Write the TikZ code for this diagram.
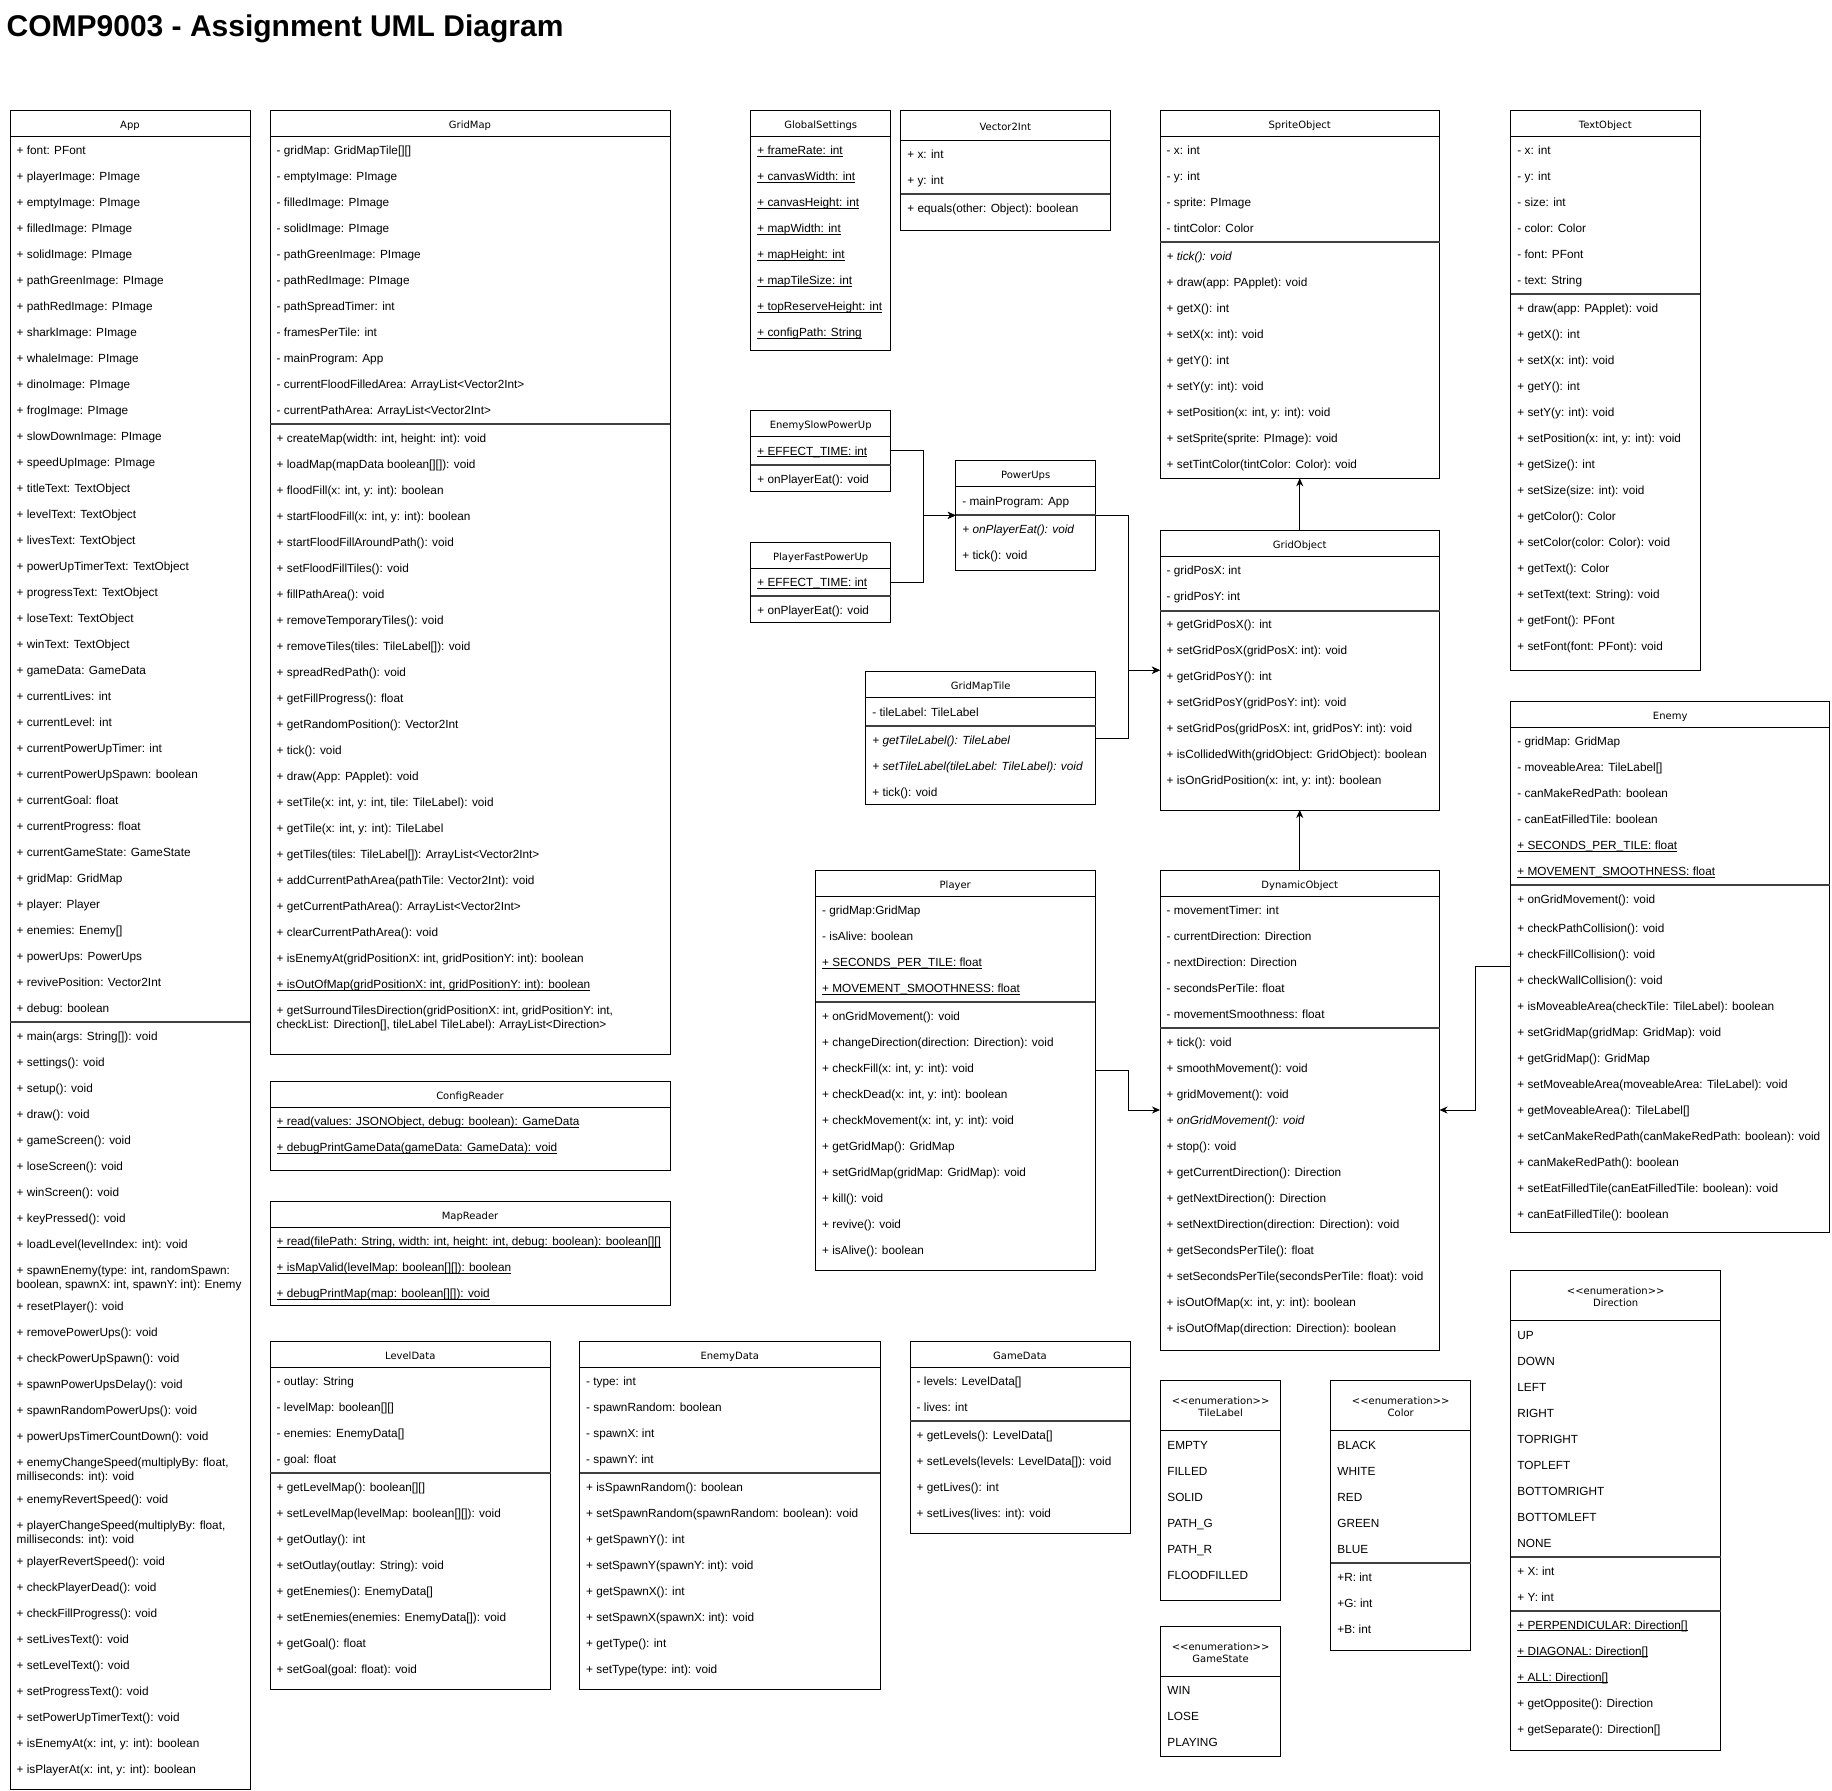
\documentclass[tikz,border=0pt]{standalone}
\usepackage{fontspec}
\setmainfont{Liberation Sans}
\newfontfamily\hdrfont{DejaVu Sans}
\usetikzlibrary{arrows.meta}
\newcounter{rown}
\newcommand\myul[1]{\setbox0\hbox{#1}\rlap{\rule[-2.2pt]{\wd0}{0.8pt}}\box0}
\newcommand\clsstart[7]{%
  \node[clsbox, minimum width={(#4-#2)*1pt}, minimum height={(#5-#3)*1pt}] (#1) at (#2,#3) {};
  \draw[sepline] (#2,#6) -- (#4,#6);
  \node[hdrtxt] (#1-title) at ({(#2+#4)/2},{(#3+#6)/2+5}) {#7};
  \xdef\cxa{#2}\xdef\cxb{#4}\pgfmathsetmacro\mytmp{#6+14}\xdef\cy{\mytmp}}
\newcommand\enumstart[7]{%
  \node[clsbox, minimum width={(#4-#2)*1pt}, minimum height={(#5-#3)*1pt}] (#1) at (#2,#3) {};
  \draw[sepline] (#2,#6) -- (#4,#6);
  \node[hdrtxt] (#1-st) at ({(#2+#4)/2},#3+23.5) {<\kern0pt<enumeration>\kern0pt>};
  \node[hdrtxt] (#1-title) at ({(#2+#4)/2},#3+35.5) {#7};
  \xdef\cxa{#2}\xdef\cxb{#4}\pgfmathsetmacro\mytmp{#6+14}\xdef\cy{\mytmp}}
\newcommand\rw[1]{\stepcounter{rown}\node[rowtxt] (row\arabic{rown}) at (\cxa+6.5,\cy+4.3) {#1};\pgfmathsetmacro\mytmp{\cy+26}\xdef\cy{\mytmp}}
\newcommand\rww[2]{\stepcounter{rown}\node[rowtxt] (row\arabic{rown}) at (\cxa+6.5,\cy+4.3) {#1};\stepcounter{rown}\node[rowtxt] (row\arabic{rown}) at (\cxa+6.5,\cy+18.3) {#2};\pgfmathsetmacro\mytmp{\cy+36.5}\xdef\cy{\mytmp}}
\newcommand\dv{\draw[divline] (\cxa,\cy-12) -- (\cxb,\cy-12);\pgfmathsetmacro\mytmp{\cy+2}\xdef\cy{\mytmp}}
\newcommand\gapy[1]{\pgfmathsetmacro\mytmp{\cy+#1}\xdef\cy{\mytmp}}
\begin{document}
\begin{tikzpicture}[x=1pt,y=-1pt,
 clsbox/.style={draw, line width=1pt, anchor=north west, inner sep=0pt, outer sep=0pt, fill=white},
 sepline/.style={line width=1pt},
 divline/.style={line width=2pt, draw=black!75},
 hdrtxt/.style={anchor=base, inner sep=0pt, font=\hdrfont\fontsize{10}{12}\selectfont},
 rowtxt/.style={anchor=base west, inner sep=0pt, font=\fontsize{11.8}{14}\selectfont},
 conn/.style={line width=1pt, -{Stealth[length=8pt,width=7pt,inset=2.5pt]}}]
\useasboundingbox (0,0) rectangle (1832,1791);
\node[anchor=base west, inner sep=0pt, font=\bfseries\fontsize{30}{34}\selectfont] (title) at (6.5,36) {COMP9003 - Assignment UML Diagram};

% App
\clsstart{App}{10}{110}{250}{1789}{136}{App}
\rw{+ font: PFont}
\rw{+ playerImage: PImage}
\rw{+ emptyImage: PImage}
\rw{+ filledImage: PImage}
\rw{+ solidImage: PImage}
\rw{+ pathGreenImage: PImage}
\rw{+ pathRedImage: PImage}
\rw{+ sharkImage: PImage}
\rw{+ whaleImage: PImage}
\rw{+ dinoImage: PImage}
\rw{+ frogImage: PImage}
\rw{+ slowDownImage: PImage}
\rw{+ speedUpImage: PImage}
\rw{+ titleText: TextObject}
\rw{+ levelText: TextObject}
\rw{+ livesText: TextObject}
\rw{+ powerUpTimerText: TextObject}
\rw{+ progressText: TextObject}
\rw{+ loseText: TextObject}
\rw{+ winText: TextObject}
\rw{+ gameData: GameData}
\rw{+ currentLives: int}
\rw{+ currentLevel: int}
\rw{+ currentPowerUpTimer: int}
\rw{+ currentPowerUpSpawn: boolean}
\rw{+ currentGoal: float}
\rw{+ currentProgress: float}
\rw{+ currentGameState: GameState}
\rw{+ gridMap: GridMap}
\rw{+ player: Player}
\rw{+ enemies: Enemy[]}
\rw{+ powerUps: PowerUps}
\rw{+ revivePosition: Vector2Int}
\rw{+ debug: boolean}
\dv
\rw{+ main(args: String[]): void}
\rw{+ settings(): void}
\rw{+ setup(): void}
\rw{+ draw(): void}
\rw{+ gameScreen(): void}
\rw{+ loseScreen(): void}
\rw{+ winScreen(): void}
\rw{+ keyPressed(): void}
\rw{+ loadLevel(levelIndex: int): void}
\rww{+ spawnEnemy(type: int, randomSpawn:}{boolean, spawnX: int, spawnY: int): Enemy}
\rw{+ resetPlayer(): void}
\rw{+ removePowerUps(): void}
\rw{+ checkPowerUpSpawn(): void}
\rw{+ spawnPowerUpsDelay(): void}
\rw{+ spawnRandomPowerUps(): void}
\rw{+ powerUpsTimerCountDown(): void}
\rww{+ enemyChangeSpeed(multiplyBy: float,}{milliseconds: int): void}
\rw{+ enemyRevertSpeed(): void}
\rww{+ playerChangeSpeed(multiplyBy: float,}{milliseconds: int): void}
\rw{+ playerRevertSpeed(): void}
\rw{+ checkPlayerDead(): void}
\rw{+ checkFillProgress(): void}
\rw{+ setLivesText(): void}
\rw{+ setLevelText(): void}
\rw{+ setProgressText(): void}
\rw{+ setPowerUpTimerText(): void}
\rw{+ isEnemyAt(x: int, y: int): boolean}
\rw{+ isPlayerAt(x: int, y: int): boolean}

% GridMap
\clsstart{GridMap}{270}{110}{670}{1054}{136}{GridMap}
\rw{- gridMap: GridMapTile[][]}
\rw{- emptyImage: PImage}
\rw{- filledImage: PImage}
\rw{- solidImage: PImage}
\rw{- pathGreenImage: PImage}
\rw{- pathRedImage: PImage}
\rw{- pathSpreadTimer: int}
\rw{- framesPerTile: int}
\rw{- mainProgram: App}
\rw{- currentFloodFilledArea: ArrayList<Vector2Int>}
\rw{- currentPathArea: ArrayList<Vector2Int>}
\dv
\rw{+ createMap(width: int, height: int): void}
\rw{+ loadMap(mapData boolean[][]): void}
\rw{+ floodFill(x: int, y: int): boolean}
\rw{+ startFloodFill(x: int, y: int): boolean}
\rw{+ startFloodFillAroundPath(): void}
\rw{+ setFloodFillTiles(): void}
\rw{+ fillPathArea(): void}
\rw{+ removeTemporaryTiles(): void}
\rw{+ removeTiles(tiles: TileLabel[]): void}
\rw{+ spreadRedPath(): void}
\rw{+ getFillProgress(): float}
\rw{+ getRandomPosition(): Vector2Int}
\rw{+ tick(): void}
\rw{+ draw(App: PApplet): void}
\rw{+ setTile(x: int, y: int, tile: TileLabel): void}
\rw{+ getTile(x: int, y: int): TileLabel}
\rw{+ getTiles(tiles: TileLabel[]): ArrayList<Vector2Int>}
\rw{+ addCurrentPathArea(pathTile: Vector2Int): void}
\rw{+ getCurrentPathArea(): ArrayList<Vector2Int>}
\rw{+ clearCurrentPathArea(): void}
\rw{+ isEnemyAt(gridPositionX: int, gridPositionY: int): boolean}
\rw{\myul{+ isOutOfMap(gridPositionX: int, gridPositionY: int): boolean}}
\rww{+ getSurroundTilesDirection(gridPositionX: int, gridPositionY: int,}{checkList: Direction[], tileLabel TileLabel): ArrayList<Direction>}

% GlobalSettings
\clsstart{GlobalSettings}{750.7}{110}{890.7}{350}{136}{GlobalSettings}
\rw{\myul{+ frameRate: int}}
\rw{\myul{+ canvasWidth: int}}
\rw{\myul{+ canvasHeight: int}}
\rw{\myul{+ mapWidth: int}}
\rw{\myul{+ mapHeight: int}}
\rw{\myul{+ mapTileSize: int}}
\rw{\myul{+ topReserveHeight: int}}
\rw{\myul{+ configPath: String}}

% Vector2Int
\clsstart{Vector2Int}{900.7}{110}{1110}{230}{140}{Vector2Int}
\rw{+ x: int}
\rw{+ y: int}
\dv
\rw{+ equals(other: Object): boolean}

% SpriteObject
\clsstart{SpriteObject}{1160}{110}{1439.5}{478.3}{136}{SpriteObject}
\rw{- x: int}
\rw{- y: int}
\rw{- sprite: PImage}
\rw{- tintColor: Color}
\dv
\rw{\textit{+ tick(): void}}
\rw{+ draw(app: PApplet): void}
\rw{+ getX(): int}
\rw{+ setX(x: int): void}
\rw{+ getY(): int}
\rw{+ setY(y: int): void}
\rw{+ setPosition(x: int, y: int): void}
\rw{+ setSprite(sprite: PImage): void}
\rw{+ setTintColor(tintColor: Color): void}

% TextObject
\clsstart{TextObject}{1510.7}{110}{1700}{670.6}{136}{TextObject}
\rw{- x: int}
\rw{- y: int}
\rw{- size: int}
\rw{- color: Color}
\rw{- font: PFont}
\rw{- text: String}
\dv
\rw{+ draw(app: PApplet): void}
\rw{+ getX(): int}
\rw{+ setX(x: int): void}
\rw{+ getY(): int}
\rw{+ setY(y: int): void}
\rw{+ setPosition(x: int, y: int): void}
\rw{+ getSize(): int}
\rw{+ setSize(size: int): void}
\rw{+ getColor(): Color}
\rw{+ setColor(color: Color): void}
\rw{+ getText(): Color}
\rw{+ setText(text: String): void}
\rw{+ getFont(): PFont}
\rw{+ setFont(font: PFont): void}

% EnemySlowPowerUp
\clsstart{EnemySlowPowerUp}{750.7}{410.7}{890.7}{491}{436.7}{EnemySlowPowerUp}
\rw{\myul{+ EFFECT\_TIME: int}}
\dv
\rw{+ onPlayerEat(): void}

% PlayerFastPowerUp
\clsstart{PlayerFastPowerUp}{750.7}{542.3}{890.7}{622.7}{568.3}{PlayerFastPowerUp}
\rw{\myul{+ EFFECT\_TIME: int}}
\dv
\rw{+ onPlayerEat(): void}

% PowerUps
\clsstart{PowerUps}{955.7}{460.7}{1095.7}{570}{486.7}{PowerUps}
\rw{- mainProgram: App}
\dv
\rw{\textit{+ onPlayerEat(): void}}
\rw{+ tick(): void}

% GridMapTile
\clsstart{GridMapTile}{865.7}{671.7}{1095.7}{804.3}{697.7}{GridMapTile}
\rw{- tileLabel: TileLabel}
\dv
\rw{\textit{+ getTileLabel(): TileLabel}}
\rw{\textit{+ setTileLabel(tileLabel: TileLabel): void}}
\rw{+ tick(): void}

% GridObject
\clsstart{GridObject}{1160}{530.5}{1439.5}{810}{556.5}{GridObject}
\rw{- gridPosX: int}
\rw{- gridPosY: int}
\dv
\rw{+ getGridPosX(): int}
\rw{+ setGridPosX(gridPosX: int): void}
\rw{+ getGridPosY(): int}
\rw{+ setGridPosY(gridPosY: int): void}
\rw{+ setGridPos(gridPosX: int, gridPosY: int): void}
\rw{+ isCollidedWith(gridObject: GridObject): boolean}
\rw{+ isOnGridPosition(x: int, y: int): boolean}

% Enemy
\clsstart{Enemy}{1510.7}{701}{1829.7}{1232}{727}{Enemy}
\rw{- gridMap: GridMap}
\rw{- moveableArea: TileLabel[]}
\rw{- canMakeRedPath: boolean}
\rw{- canEatFilledTile: boolean}
\rw{\myul{+ SECONDS\_PER\_TILE: float}}
\rw{\myul{+ MOVEMENT\_SMOOTHNESS: float}}
\dv
\rw{+ onGridMovement(): void}
\gapy{3.5}
\rw{+ checkPathCollision(): void}
\rw{+ checkFillCollision(): void}
\rw{+ checkWallCollision(): void}
\rw{+ isMoveableArea(checkTile: TileLabel): boolean}
\rw{+ setGridMap(gridMap: GridMap): void}
\rw{+ getGridMap(): GridMap}
\rw{+ setMoveableArea(moveableArea: TileLabel): void}
\rw{+ getMoveableArea(): TileLabel[]}
\rw{+ setCanMakeRedPath(canMakeRedPath: boolean): void}
\rw{+ canMakeRedPath(): boolean}
\rw{+ setEatFilledTile(canEatFilledTile: boolean): void}
\rw{+ canEatFilledTile(): boolean}

% DynamicObject
\clsstart{DynamicObject}{1160}{870}{1439.5}{1350}{896}{DynamicObject}
\rw{- movementTimer: int}
\rw{- currentDirection: Direction}
\rw{- nextDirection: Direction}
\rw{- secondsPerTile: float}
\rw{- movementSmoothness: float}
\dv
\rw{+ tick(): void}
\rw{+ smoothMovement(): void}
\rw{+ gridMovement(): void}
\rw{\textit{+ onGridMovement(): void}}
\rw{+ stop(): void}
\rw{+ getCurrentDirection(): Direction}
\rw{+ getNextDirection(): Direction}
\rw{+ setNextDirection(direction: Direction): void}
\rw{+ getSecondsPerTile(): float}
\rw{+ setSecondsPerTile(secondsPerTile: float): void}
\rw{+ isOutOfMap(x: int, y: int): boolean}
\rw{+ isOutOfMap(direction: Direction): boolean}

% Player
\clsstart{Player}{815.5}{870}{1095}{1270}{896}{Player}
\rw{- gridMap:GridMap}
\rw{- isAlive: boolean}
\rw{\myul{+ SECONDS\_PER\_TILE: float}}
\rw{\myul{+ MOVEMENT\_SMOOTHNESS: float}}
\dv
\rw{+ onGridMovement(): void}
\rw{+ changeDirection(direction: Direction): void}
\rw{+ checkFill(x: int, y: int): void}
\rw{+ checkDead(x: int, y: int): boolean}
\rw{+ checkMovement(x: int, y: int): void}
\rw{+ getGridMap(): GridMap}
\rw{+ setGridMap(gridMap: GridMap): void}
\rw{+ kill(): void}
\rw{+ revive(): void}
\rw{+ isAlive(): boolean}

% ConfigReader
\clsstart{ConfigReader}{270}{1081}{670}{1170}{1107}{ConfigReader}
\rw{\myul{+ read(values: JSONObject, debug: boolean): GameData}}
\rw{\myul{+ debugPrintGameData(gameData: GameData): void}}

% MapReader
\clsstart{MapReader}{270}{1201}{670}{1305}{1227}{MapReader}
\rw{\myul{+ read(filePath: String, width: int, height: int, debug: boolean): boolean[][]}}
\rw{\myul{+ isMapValid(levelMap: boolean[][]): boolean}}
\rw{\myul{+ debugPrintMap(map: boolean[][]): void}}

% LevelData
\clsstart{LevelData}{270}{1341}{550.5}{1689.5}{1367}{LevelData}
\rw{- outlay: String}
\rw{- levelMap: boolean[][]}
\rw{- enemies: EnemyData[]}
\rw{- goal: float}
\dv
\rw{+ getLevelMap(): boolean[][]}
\rw{+ setLevelMap(levelMap: boolean[][]): void}
\rw{+ getOutlay(): int}
\rw{+ setOutlay(outlay: String): void}
\rw{+ getEnemies(): EnemyData[]}
\rw{+ setEnemies(enemies: EnemyData[]): void}
\rw{+ getGoal(): float}
\rw{+ setGoal(goal: float): void}

% EnemyData
\clsstart{EnemyData}{579.5}{1341}{880}{1689.5}{1367}{EnemyData}
\rw{- type: int}
\rw{- spawnRandom: boolean}
\rw{- spawnX: int}
\rw{- spawnY: int}
\dv
\rw{+ isSpawnRandom(): boolean}
\rw{+ setSpawnRandom(spawnRandom: boolean): void}
\rw{+ getSpawnY(): int}
\rw{+ setSpawnY(spawnY: int): void}
\rw{+ getSpawnX(): int}
\rw{+ setSpawnX(spawnX: int): void}
\rw{+ getType(): int}
\rw{+ setType(type: int): void}

% GameData
\clsstart{GameData}{910}{1341}{1130}{1533}{1367}{GameData}
\rw{- levels: LevelData[]}
\rw{- lives: int}
\dv
\rw{+ getLevels(): LevelData[]}
\rw{+ setLevels(levels: LevelData[]): void}
\rw{+ getLives(): int}
\rw{+ setLives(lives: int): void}

% TileLabel
\enumstart{TileLabel}{1160.7}{1380.7}{1280.5}{1600}{1430.7}{TileLabel}
\rw{EMPTY}
\rw{FILLED}
\rw{SOLID}
\rw{PATH\_G}
\rw{PATH\_R}
\rw{FLOODFILLED}

% Color
\enumstart{Color}{1330.7}{1380.7}{1470.7}{1650}{1430.7}{Color}
\rw{BLACK}
\rw{WHITE}
\rw{RED}
\rw{GREEN}
\rw{BLUE}
\dv
\rw{+R: int}
\rw{+G: int}
\rw{+B: int}

% GameState
\enumstart{GameState}{1160.7}{1626.5}{1280.5}{1756}{1676.5}{GameState}
\rw{WIN}
\rw{LOSE}
\rw{PLAYING}

% Direction
\enumstart{Direction}{1510.7}{1270.7}{1720.7}{1750}{1320.7}{Direction}
\rw{UP}
\rw{DOWN}
\rw{LEFT}
\rw{RIGHT}
\rw{TOPRIGHT}
\rw{TOPLEFT}
\rw{BOTTOMRIGHT}
\rw{BOTTOMLEFT}
\rw{NONE}
\dv
\rw{+ X: int}
\rw{+ Y: int}
\dv
\rw{\myul{+ PERPENDICULAR: Direction[]}}
\rw{\myul{+ DIAGONAL: Direction[]}}
\rw{\myul{+ ALL: Direction[]}}
\rw{+ getOpposite(): Direction}
\rw{+ getSeparate(): Direction[]}

% connectors
\draw[conn] (EnemySlowPowerUp.east) -- ++(32.6,0) |- (PowerUps.west);
\draw[conn] (PlayerFastPowerUp.east) -- ++(32.6,0) |- (PowerUps.west);
\draw[conn] (PowerUps.east) -- ++(32.6,0) |- (GridObject.west);
\draw[conn] (GridMapTile.east) -- ++(32.6,0) |- (GridObject.west);
\draw[conn] (GridObject.north) -- (SpriteObject.south);
\draw[conn] (DynamicObject.north) -- (GridObject.south);
\draw[conn] (Player.east) -- ++(33.3,0) |- (DynamicObject.west);
\draw[conn] (Enemy.west) -- ++(-35,0) |- (DynamicObject.east);
\end{tikzpicture}
\end{document}
